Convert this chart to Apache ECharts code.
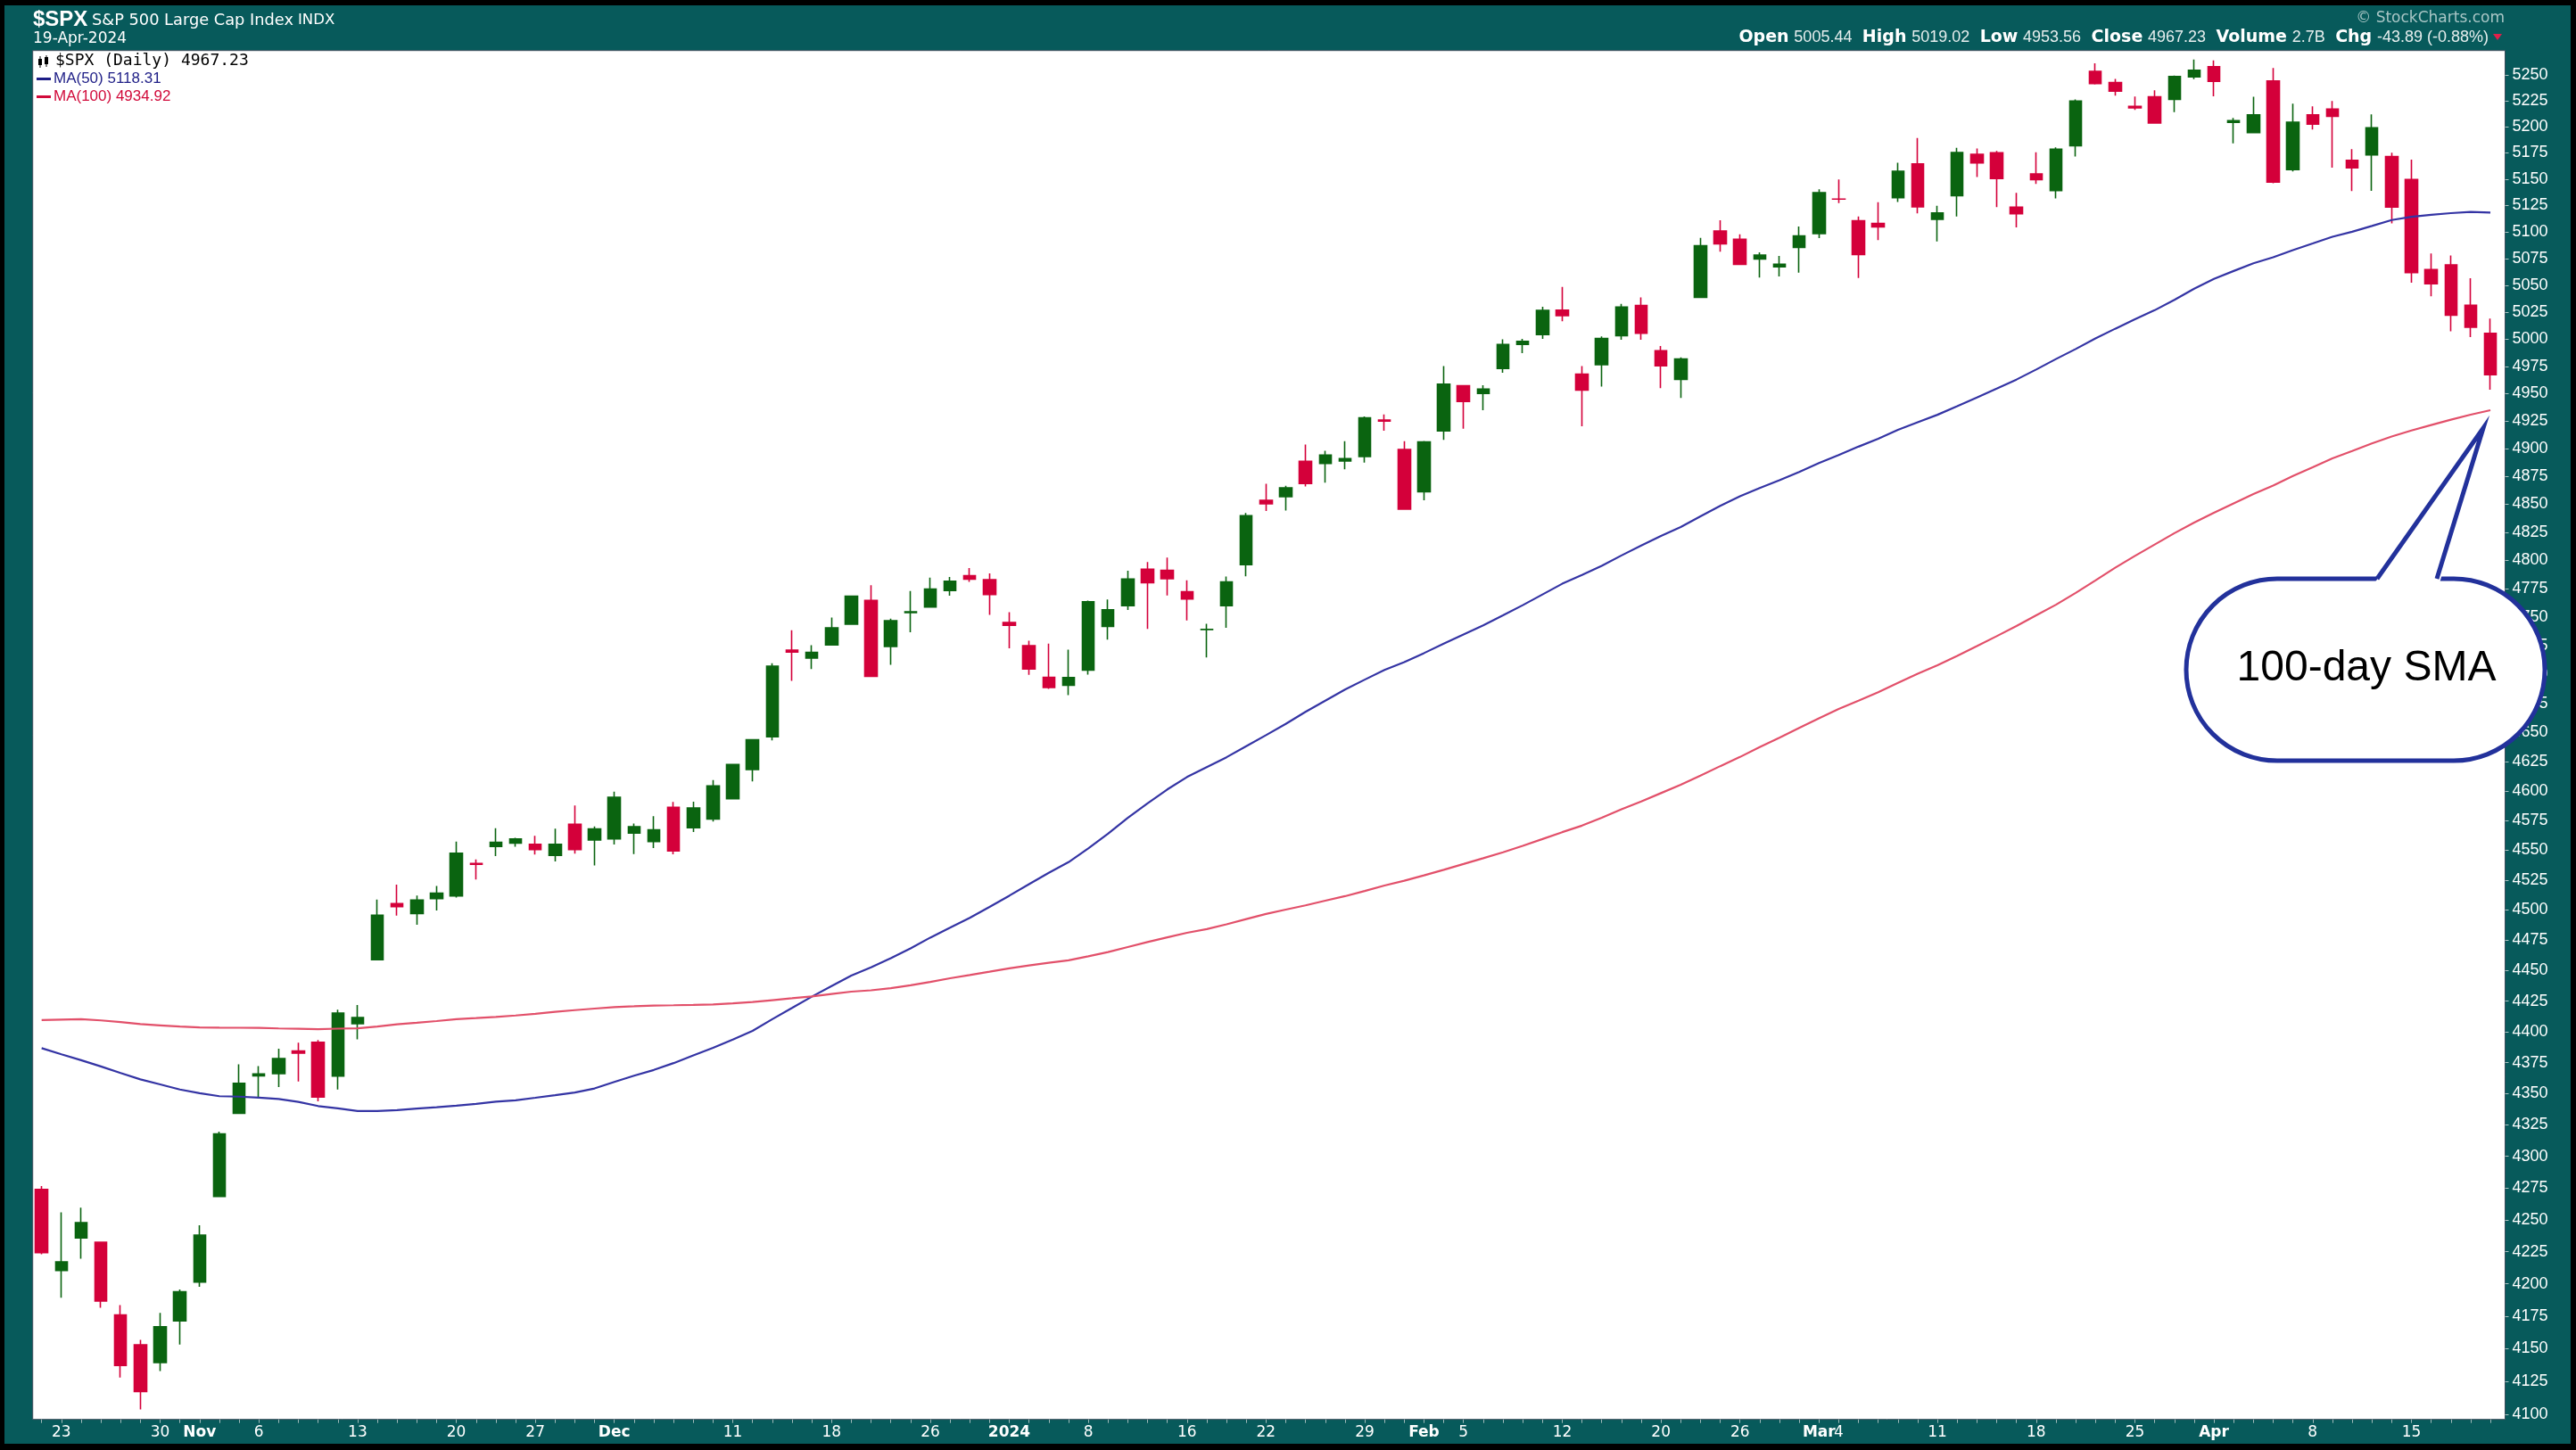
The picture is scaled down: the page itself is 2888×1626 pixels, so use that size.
<!DOCTYPE html>
<html><head><meta charset="utf-8">
<script src="https://cdn.jsdelivr.net/npm/echarts@6/dist/echarts.min.js"></script>
<style>html,body{margin:0;padding:0;background:#000;overflow:hidden}#c{width:2888px;height:1626px}</style>
</head><body><div id="c"></div>
<script>
// ---------- DATA ----------
const dates = [
'2023-10-20',
'2023-10-23','2023-10-24','2023-10-25','2023-10-26','2023-10-27',
'2023-10-30','2023-10-31','2023-11-01','2023-11-02','2023-11-03',
'2023-11-06','2023-11-07','2023-11-08','2023-11-09','2023-11-10',
'2023-11-13','2023-11-14','2023-11-15','2023-11-16','2023-11-17',
'2023-11-20','2023-11-21','2023-11-22','2023-11-24',
'2023-11-27','2023-11-28','2023-11-29','2023-11-30','2023-12-01',
'2023-12-04','2023-12-05','2023-12-06','2023-12-07','2023-12-08',
'2023-12-11','2023-12-12','2023-12-13','2023-12-14','2023-12-15',
'2023-12-18','2023-12-19','2023-12-20','2023-12-21','2023-12-22',
'2023-12-26','2023-12-27','2023-12-28','2023-12-29',
'2024-01-02','2024-01-03','2024-01-04','2024-01-05',
'2024-01-08','2024-01-09','2024-01-10','2024-01-11','2024-01-12',
'2024-01-16','2024-01-17','2024-01-18','2024-01-19',
'2024-01-22','2024-01-23','2024-01-24','2024-01-25','2024-01-26',
'2024-01-29','2024-01-30','2024-01-31','2024-02-01','2024-02-02',
'2024-02-05','2024-02-06','2024-02-07','2024-02-08','2024-02-09',
'2024-02-12','2024-02-13','2024-02-14','2024-02-15','2024-02-16',
'2024-02-20','2024-02-21','2024-02-22','2024-02-23',
'2024-02-26','2024-02-27','2024-02-28','2024-02-29','2024-03-01',
'2024-03-04','2024-03-05','2024-03-06','2024-03-07','2024-03-08',
'2024-03-11','2024-03-12','2024-03-13','2024-03-14','2024-03-15',
'2024-03-18','2024-03-19','2024-03-20','2024-03-21','2024-03-22',
'2024-03-25','2024-03-26','2024-03-27','2024-03-28',
'2024-04-01','2024-04-02','2024-04-03','2024-04-04','2024-04-05',
'2024-04-08','2024-04-09','2024-04-10','2024-04-11','2024-04-12',
'2024-04-15','2024-04-16','2024-04-17','2024-04-18','2024-04-19'];

const openP = [
4273.85,
4210.40,4235.79,4232.42,4175.99,4152.93,
4139.39,4171.33,4201.27,4268.26,4334.23,
4364.27,4366.21,4384.37,4391.41,4364.15,
4406.66,4458.97,4505.30,4497.08,4509.55,
4511.70,4538.77,4553.04,4555.84,
4554.86,4545.55,4571.84,4558.48,4559.43,
4564.37,4557.25,4586.23,4568.84,4576.20,
4593.39,4618.30,4646.20,4721.04,4714.23,
4725.58,4743.72,4764.73,4724.29,4753.92,
4758.86,4773.45,4786.44,4782.88,
4745.20,4725.07,4697.42,4690.57,
4703.70,4741.93,4759.94,4792.13,4791.18,
4772.35,4739.13,4760.10,4796.28,
4853.42,4856.80,4888.56,4886.66,4888.91,
4892.95,4925.89,4899.19,4861.11,4916.06,
4957.19,4950.16,4973.05,4995.16,5004.17,
5026.83,4967.94,4976.44,5003.14,5031.13,
4989.32,4963.03,5038.83,5100.92,
5093.00,5074.60,5067.20,5085.36,5098.51,
5130.99,5110.52,5108.03,5132.38,5164.46,
5111.96,5134.30,5173.49,5175.14,5123.31,
5154.77,5139.09,5181.69,5253.43,5242.48,
5219.52,5228.85,5226.31,5248.03,
5257.97,5204.29,5194.37,5244.05,5158.95,
5211.37,5217.03,5167.88,5172.95,5171.51,
5149.67,5064.59,5068.97,5031.52,5005.44];

const highP = [
4276.56,
4255.84,4259.38,4232.42,4183.60,4156.70,
4177.47,4195.55,4245.64,4319.72,4373.62,
4372.21,4386.26,4391.20,4393.40,4418.03,
4421.76,4508.67,4521.17,4511.99,4520.12,
4557.11,4542.14,4568.43,4560.31,
4562.06,4568.14,4587.64,4569.89,4599.39,
4572.37,4578.56,4590.74,4590.92,4609.23,
4623.18,4643.93,4709.69,4738.57,4725.53,
4749.52,4768.69,4778.01,4748.71,4772.94,
4784.72,4785.39,4793.30,4788.43,
4754.33,4729.29,4726.78,4721.49,
4764.54,4765.47,4790.80,4798.50,4802.40,
4782.34,4744.23,4785.79,4842.07,
4868.41,4866.48,4903.68,4898.15,4906.69,
4929.31,4931.09,4906.75,4906.97,4975.29,
4957.19,4957.77,4999.89,5000.40,5030.06,
5048.39,4975.29,5002.52,5032.72,5038.70,
4993.71,4983.21,5094.39,5111.06,
5097.66,5080.69,5077.37,5104.99,5140.33,
5149.67,5114.54,5127.97,5165.62,5189.26,
5124.66,5179.87,5179.14,5176.85,5136.86,
5175.60,5180.31,5226.19,5261.10,5246.09,
5229.09,5235.16,5249.26,5264.85,
5263.95,5208.34,5228.75,5256.59,5222.18,
5219.57,5224.81,5178.43,5211.78,5175.03,
5168.43,5079.84,5077.96,5056.66,5019.02];

const lowP = [
4223.03,
4189.22,4219.43,4181.42,4127.90,4103.78,
4132.94,4153.12,4197.74,4268.26,4334.23,
4347.53,4355.41,4359.76,4343.94,4353.34,
4393.82,4458.97,4495.31,4487.83,4499.66,
4510.36,4525.51,4545.05,4552.80,
4546.35,4540.51,4547.15,4537.24,4554.71,
4546.72,4551.68,4546.50,4565.22,4574.06,
4593.39,4608.09,4643.23,4694.34,4704.69,
4725.58,4743.72,4697.82,4708.35,4736.77,
4758.45,4768.90,4780.98,4751.99,
4722.67,4699.71,4687.53,4682.11,
4699.82,4730.35,4756.20,4739.58,4768.98,
4747.12,4714.82,4740.57,4785.87,
4844.05,4844.37,4865.94,4869.34,4881.47,
4887.40,4916.27,4845.15,4853.52,4907.99,
4918.09,4934.88,4969.05,4987.09,5000.34,
5016.61,4920.31,4956.45,4999.44,4999.52,
4955.02,4946.00,5038.83,5081.46,
5068.91,5057.29,5058.35,5061.89,5094.16,
5127.18,5056.82,5092.22,5128.21,5117.50,
5091.14,5114.48,5151.88,5123.30,5104.35,
5145.47,5131.59,5171.55,5240.66,5229.87,
5216.09,5203.42,5213.92,5245.82,
5229.20,5184.05,5194.37,5146.06,5157.21,
5197.35,5160.78,5138.70,5138.77,5107.94,
5052.47,5039.83,5007.25,5001.89,4953.56];

const closeP = [
4224.16,
4217.04,4247.68,4186.77,4137.23,4117.37,
4166.82,4193.80,4237.86,4317.78,4358.34,
4365.98,4378.38,4382.78,4347.35,4415.24,
4411.55,4495.70,4502.88,4508.24,4514.02,
4547.38,4538.19,4556.62,4559.34,
4550.43,4554.89,4550.58,4567.80,4594.63,
4569.78,4567.18,4549.34,4585.59,4604.37,
4622.44,4643.70,4707.09,4719.55,4719.19,
4740.56,4768.37,4698.35,4746.75,4754.63,
4774.75,4781.58,4783.35,4769.83,
4742.83,4704.81,4688.68,4697.24,
4763.54,4756.50,4783.45,4780.24,4783.83,
4765.98,4739.21,4780.94,4839.81,
4850.43,4864.60,4868.55,4894.16,4890.97,
4927.93,4924.97,4845.65,4906.19,4958.61,
4942.81,4954.23,4995.06,4997.91,5026.61,
5021.84,4953.17,5000.62,5029.73,5005.57,
4975.51,4981.80,5087.03,5088.80,
5069.53,5078.18,5069.76,5096.27,5137.08,
5130.95,5078.65,5104.76,5157.36,5123.69,
5117.94,5175.27,5165.31,5150.48,5117.09,
5149.42,5178.51,5224.62,5241.53,5234.18,
5218.19,5203.58,5248.49,5254.35,
5243.77,5205.81,5211.49,5147.21,5204.34,
5202.39,5209.91,5160.64,5199.06,5123.41,
5061.82,5051.41,5022.21,5011.12,4967.23];

const ma50 = [
4386.75,
4381.81,4376.97,4371.95,4366.61,4361.55,
4357.49,4353.37,4350.37,4348.01,4347.65,
4346.86,4345.76,4343.46,4340.11,4338.26,
4336.17,4336.15,4336.90,4338.04,4339.17,
4340.37,4341.89,4343.67,4344.76,
4346.76,4348.79,4350.92,4354.23,4359.52,
4364.52,4369.11,4374.63,4380.85,4386.94,
4393.63,4400.74,4410.29,4419.41,4428.63,
4437.27,4445.92,4452.72,4460.12,4468.22,
4477.16,4485.32,4493.52,4502.62,
4511.92,4521.53,4530.97,4539.96,
4551.49,4563.88,4577.20,4589.47,4601.27,
4611.83,4620.26,4628.71,4638.19,
4647.63,4657.27,4667.69,4677.27,4686.86,
4695.50,4703.94,4710.69,4718.54,4726.76,
4734.85,4742.80,4751.52,4760.47,4769.90,
4779.33,4787.04,4795.16,4804.35,4813.12,
4821.65,4829.57,4839.22,4848.55,
4857.07,4864.49,4871.49,4879.03,4886.96,
4894.22,4901.82,4908.98,4917.04,4924.02,
4930.74,4938.58,4946.49,4954.64,4962.89,
4972.10,4981.73,4990.95,5000.65,5009.67,
5018.43,5026.82,5036.47,5046.77,
5056.03,5063.35,5070.57,5076.22,5082.94,
5089.10,5095.48,5100.14,5105.62,5111.17,
5114.29,5116.14,5117.73,5118.87,5118.31];

const ma100 = [
4409.58,
4409.95,4410.21,4409.26,4407.89,4406.23,
4405.22,4404.22,4403.61,4403.40,4403.29,
4403.22,4402.75,4402.48,4402.07,4402.56,
4402.86,4404.33,4406.07,4407.37,4408.74,
4410.25,4411.13,4412.14,4413.26,
4414.65,4416.21,4417.62,4418.91,4420.13,
4420.73,4421.35,4421.61,4421.92,4422.31,
4423.18,4424.26,4425.78,4427.30,4428.83,
4430.86,4432.72,4433.82,4435.52,4437.93,
4440.66,4443.69,4446.34,4449.05,
4451.80,4454.16,4456.40,4458.48,
4461.73,4465.26,4469.39,4473.49,4477.33,
4481.12,4484.15,4488.20,4492.54,
4496.71,4500.38,4503.91,4507.78,4511.53,
4515.84,4520.44,4524.38,4528.87,4533.58,
4538.39,4543.26,4548.16,4553.64,4559.37,
4565.15,4570.66,4577.37,4584.47,4591.15,
4598.17,4605.24,4613.11,4621.12,
4628.93,4637.42,4645.48,4653.86,4662.15,
4670.10,4677.30,4684.58,4692.66,4700.62,
4708.06,4716.08,4724.59,4733.31,4742.24,
4751.56,4760.87,4771.25,4782.29,4793.46,
4803.97,4814.07,4824.17,4833.54,
4842.39,4850.79,4859.12,4866.76,4875.33,
4883.20,4891.18,4897.83,4904.79,4910.94,
4916.42,4921.46,4926.30,4930.84,4934.92];

const yTickValues = [4100,4125,4150,4175,4200,4225,4250,4275,4300,4325,4350,4375,4400,4425,4450,4475,
4500,4525,4550,4575,4600,4625,4650,4675,4700,4725,4750,4775,4800,4825,4850,4875,4900,4925,4950,4975,
5000,5025,5050,5075,5100,5125,5150,5175,5200,5225,5250];

const xTickLabels = {
'2023-10-23':'23','2023-10-30':'30','2023-11-01':'Nov','2023-11-06':'6','2023-11-13':'13',
'2023-11-20':'20','2023-11-27':'27','2023-12-01':'Dec','2023-12-11':'11','2023-12-18':'18',
'2023-12-26':'26','2024-01-02':'2024','2024-01-08':'8','2024-01-16':'16','2024-01-22':'22',
'2024-01-29':'29','2024-02-01':'Feb','2024-02-05':'5','2024-02-12':'12','2024-02-20':'20',
'2024-02-26':'26','2024-03-01':'Mar','2024-03-04':'4','2024-03-11':'11','2024-03-18':'18',
'2024-03-25':'25','2024-04-01':'Apr','2024-04-08':'8','2024-04-15':'15'};
const boldLabels = ['Nov','Dec','2024','Feb','Mar','Apr'];

const volumeText = '2.7B';
const yRange = [4096.2, 5273.6];

// ---------- CHART ----------
const TEAL = '#075a5b';
const UP = '#0a6410', DOWN = '#d4003a';
const MA50C = '#3434a4', MA100C = '#e2506a';
const N = closeP.length;
const L = Math.log;
const candleData = dates.map((d, i) => [L(openP[i]), L(closeP[i]), L(lowP[i]), L(highP[i])]);

const lastO = openP[N-1], lastH = highP[N-1], lastL = lowP[N-1], lastC = closeP[N-1];
const chg = lastC - closeP[N-2];
const chgPct = chg / closeP[N-2] * 100;

const plot = {x: 36.7, y: 56.7, w: 2771.8, h: 1535};

const chart = echarts.init(document.getElementById('c'), null, {renderer: 'canvas', width: 2888, height: 1626});

const txt = (x, y, text, font, fill, align, extra) => ({
  type: 'text', x: x, y: y, z: 50,
  style: Object.assign({text: text, font: font, fill: fill, align: align || 'left', textAlign: align || 'left',
    verticalAlign: 'middle', textVerticalAlign: 'middle'}, extra || {})
});

const option = {
  animation: false,
  backgroundColor: '#000',
  grid: {left: 35.6, top: plot.y, width: 2767.5, height: plot.h, show: false},
  xAxis: {
    type: 'category', data: dates, boundaryGap: true,
    axisLine: {show: false},
    axisTick: {show: true, interval: 0, alignWithLabel: true, length: 4, lineStyle: {color: '#9fb9b9', width: 1}},
    axisLabel: {
      interval: 0, margin: 6, color: '#fff',
      formatter: function (v) {
        const l = xTickLabels[v];
        if (!l) return '';
        return boldLabels.indexOf(l) >= 0 ? '{b|' + l + '}' : '{n|' + l + '}';
      },
      rich: {
        b: {fontFamily: 'DejaVu Sans', fontWeight: 'bold', fontSize: 17, color: '#fff'},
        n: {fontFamily: 'DejaVu Sans', fontSize: 17, color: '#fff'}
      }
    },
    splitLine: {show: false}
  },
  yAxis: {
    type: 'value', position: 'right', offset: 5.4,
    min: L(yRange[0]), max: L(yRange[1]),
    axisLine: {show: false},
    splitLine: {show: false},
    axisTick: {show: true, customValues: yTickValues.map(L), length: 4, lineStyle: {color: '#a9c2c2'}},
    axisLabel: {
      customValues: yTickValues.map(L), margin: 8, color: '#fff',
      fontFamily: 'Liberation Sans', fontSize: 18,
      formatter: function (v) { return String(Math.round(Math.exp(v))); }
    }
  },
  series: [
    {
      type: 'candlestick', data: candleData, barWidth: 14, z: 3,
      itemStyle: {color: UP, color0: DOWN, borderColor: UP, borderColor0: DOWN, borderWidth: 1.6}
    },
    {
      type: 'line', data: ma50.map(L), showSymbol: false, z: 4,
      lineStyle: {color: MA50C, width: 2.2}
    },
    {
      type: 'line', data: ma100.map(L), showSymbol: false, z: 4,
      lineStyle: {color: MA100C, width: 2.2}
    }
  ],
  graphic: {elements: [
    {type: 'rect', z: -10, shape: {x: 5, y: 6, width: 2877, height: 1613}, style: {fill: TEAL}},
    {type: 'rect', z: -5, shape: {x: plot.x, y: plot.y, width: plot.w, height: plot.h}, style: {fill: '#fff', stroke: '#3d4d5c', lineWidth: 1}},
    // header left
    txt(37, 22, '$SPX', 'bold 24px "Liberation Sans", Arial, sans-serif', '#fff'),
    txt(103, 23, 'S&P 500 Large Cap Index', '17.8px "DejaVu Sans", sans-serif', '#fff'),
    txt(334, 23, 'INDX', '16.5px "DejaVu Sans", sans-serif', '#fff'),
    txt(37, 44, '19-Apr-2024', '17px "DejaVu Sans", sans-serif', '#fff'),
    // header right
    txt(2808, 21, '\u00a9 StockCharts.com', '17px "DejaVu Sans", sans-serif', '#a9c6c6', 'right'),
    txt(2790, 42,
      '{l|Open} {v|' + lastO.toFixed(2) + '}  {l|High} {v|' + lastH.toFixed(2) + '}  {l|Low} {v|' + lastL.toFixed(2) +
      '}  {l|Close} {v|' + lastC.toFixed(2) + '}  {l|Volume} {v|' + volumeText + '}  {l|Chg} {v|' + chg.toFixed(2) +
      ' (' + chgPct.toFixed(2) + '%)}', '18px "DejaVu Sans", sans-serif', '#fff', 'right',
      {rich: {
        l: {fontFamily: 'DejaVu Sans', fontWeight: 'bold', fontSize: 19, fill: '#fff', color: '#fff'},
        v: {fontFamily: 'Liberation Sans', fontSize: 18, fill: '#e6eeee', color: '#e6eeee'}
      }}),
    {type: 'polygon', z: 50, shape: {points: [[2795, 38], [2805, 38], [2800, 45]]}, style: {fill: '#e0204a'}},
    // legend inside plot
    {type: 'rect', z: 50, shape: {x: 43, y: 66, width: 4, height: 7}, style: {fill: '#000'}},
    {type: 'line', z: 50, shape: {x1: 45, y1: 63, x2: 45, y2: 76}, style: {stroke: '#000', lineWidth: 1}},
    {type: 'rect', z: 50, shape: {x: 50, y: 64, width: 4, height: 8}, style: {fill: '#000'}},
    {type: 'line', z: 50, shape: {x1: 52, y1: 62, x2: 52, y2: 75}, style: {stroke: '#000', lineWidth: 1}},
    txt(62, 68.5, '$SPX (Daily) ' + lastC.toFixed(2), '18px "DejaVu Sans Mono", monospace', '#000'),
    {type: 'line', z: 50, shape: {x1: 41, y1: 88.5, x2: 57, y2: 88.5}, style: {stroke: '#1d1d86', lineWidth: 3}},
    txt(60, 88.5, 'MA(50) ' + ma50[N-1].toFixed(2), '17px "Liberation Sans", Arial, sans-serif', '#1d1d86'),
    {type: 'line', z: 50, shape: {x1: 41, y1: 108.5, x2: 57, y2: 108.5}, style: {stroke: '#d10a3a', lineWidth: 3}},
    txt(60, 108.5, 'MA(100) ' + ma100[N-1].toFixed(2), '17px "Liberation Sans", Arial, sans-serif', '#d10a3a'),
    // callout
    {type: 'rect', z: 100, shape: {x: 2451, y: 649, width: 402, height: 204, r: 102}, style: {fill: '#fff', stroke: '#22319b', lineWidth: 5}},
    {type: 'polygon', z: 101, shape: {points: [[2662, 654], [2784, 480], [2735, 654]]}, style: {fill: '#fff'}},
    {type: 'polyline', z: 102, shape: {points: [[2665, 649], [2784, 480], [2732, 649]]}, style: {stroke: '#22319b', lineWidth: 5, fill: null, lineJoin: 'miter'}},
    Object.assign(txt(2653, 750, '100-day SMA', '48px "Liberation Sans", Arial, sans-serif', '#000', 'center'), {z: 103})
  ]}
};
chart.setOption(option);
</script>
</body></html>
